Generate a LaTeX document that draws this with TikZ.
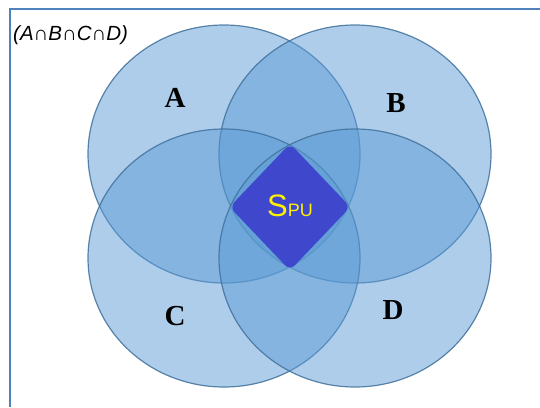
\documentclass[tikz,border=0pt]{standalone}
\usepackage{fontspec}
\setmainfont{Liberation Serif}
\setsansfont{Liberation Sans}
\usetikzlibrary{shapes.geometric}

\definecolor{setfill}{RGB}{91,155,213}
\definecolor{setline}{RGB}{65,113,156}
\definecolor{corefill}{RGB}{63,72,204}
\definecolor{framecol}{RGB}{79,129,189}

\begin{document}
\begin{tikzpicture}[
    x=1pt, y=-1pt,
    set/.style={ellipse, minimum width=272pt, minimum height=258pt, inner sep=0pt, fill=setfill, fill opacity=0.5, draw=setline, draw opacity=0.85, line width=1.2pt},
    setlabel/.style={font=\fontsize{29}{29}\selectfont\bfseries, inner sep=0pt},
    core/.style={diamond, fill=corefill, minimum width=121pt, minimum height=127pt, inner sep=0pt, rounded corners=7pt, text=yellow, font=\sffamily},
    frame/.style={draw=framecol, line width=2pt}
]
    \useasboundingbox (0,0) rectangle (540,407);

    % Frame (top and left edges)
    \coordinate (ftr) at (540,9);
    \coordinate (ftl) at (10,9);
    \coordinate (fbl) at (10,407);
    \draw [frame] (ftr) -- (ftl) -- (fbl);

    % Title
    \node [anchor=west, inner sep=0pt, font=\sffamily\itshape\fontsize{20.5}{20.5}\selectfont] (title) at (13,35) {(A∩B∩C∩D)};

    % The four sets
    \node [set] (setA) at (224,154) {};
    \node [set] (setB) at (355,154) {};
    \node [set] (setC) at (224,258) {};
    \node [set] (setD) at (355,258) {};

    % Set labels
    \node [setlabel] (labA) at (175,98) {A};
    \node [setlabel] (labB) at (396,103) {B};
    \node [setlabel] (labC) at (175,316) {C};
    \node [setlabel] (labD) at (393,310) {D};

    % Common part
    \node [core] (spu) at (290,207) {\raisebox{3pt}{{\fontsize{31}{31}\selectfont S}{\fontsize{18}{18}\selectfont PU}}};
\end{tikzpicture}
\end{document}
